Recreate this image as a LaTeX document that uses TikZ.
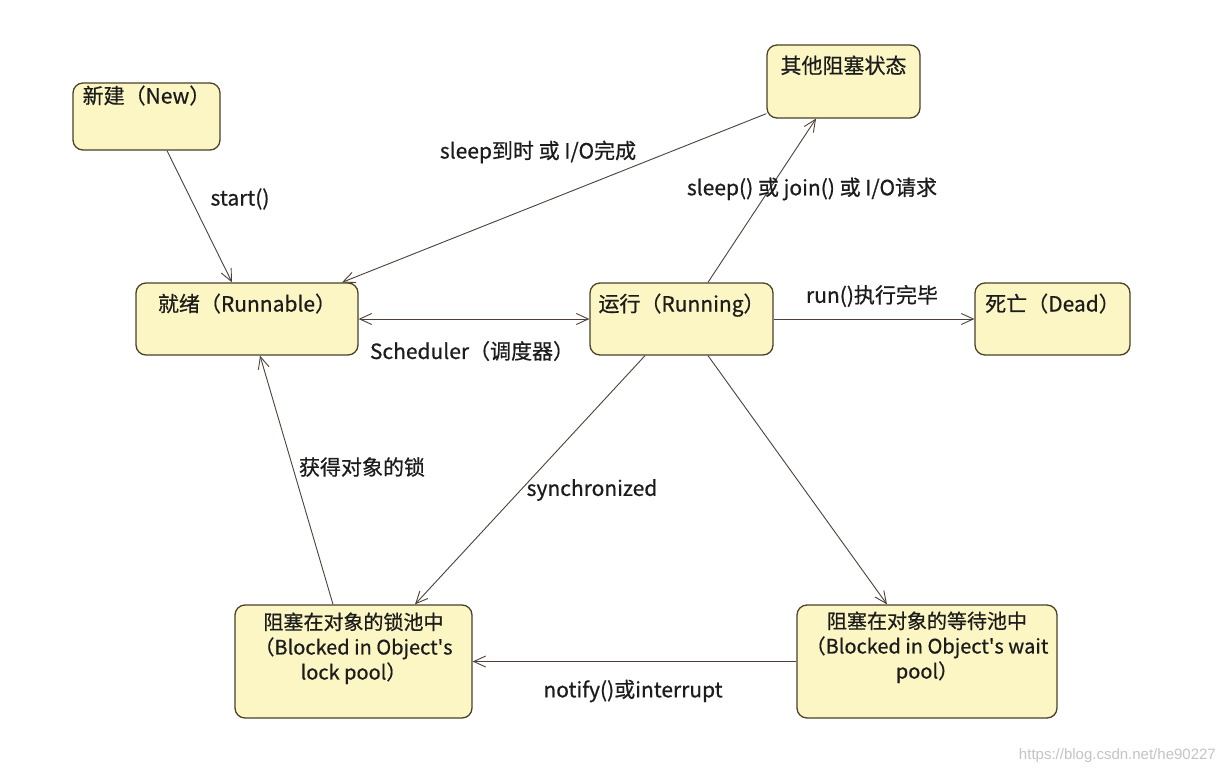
\documentclass[tikz,border=0pt]{standalone}
\usepackage{fontspec}
\setmainfont{Noto Sans CJK SC}[FakeBold=0.6]
\newfontfamily\apostFont{Noto Sans CJK SC}[FakeBold=0.6]
\newfontfamily\marcaFont{Liberation Sans}
\newcommand{\apost}{{\apostFont '}}
\usetikzlibrary{arrows.meta}
\definecolor{estadoFondo}{HTML}{FBF6C4}
\definecolor{estadoBorde}{HTML}{4A4228}
\definecolor{flecha}{HTML}{4E4038}
\definecolor{texto}{HTML}{1C1C1C}
\definecolor{marca}{HTML}{C4C4C4}

\begin{document}
\begin{tikzpicture}[x=1pt, y=-1pt,
  >={Straight Barb[length=12pt,width=11pt]},
  estado/.style={draw=estadoBorde, fill=estadoFondo, line width=1.3pt, rounded corners=10pt, inner sep=0pt},
  titulo/.style={anchor=north, font=\fontsize{21}{25}\selectfont, text=texto, align=center, inner sep=0pt},
  etiq/.style={font=\fontsize{21}{25}\selectfont, text=texto, inner sep=0pt},
  trans/.style={draw=flecha, line width=0.9pt},
]
  % Fondo
  \useasboundingbox (0,0) rectangle (1226,776);
  \fill[white] (0,0) rectangle (1226,776);

  % Estados
  \node[estado, minimum width=147pt, minimum height=67pt] (nuevo) at (146.5,116.5) {};
  \node[estado, minimum width=153pt, minimum height=73pt] (otros) at (843.5,81.5) {};
  \node[estado, minimum width=222pt, minimum height=72pt] (listo) at (247,319) {};
  \node[estado, minimum width=183pt, minimum height=72pt] (corriendo) at (681.5,319) {};
  \node[estado, minimum width=155pt, minimum height=72pt] (muerto) at (1052.5,319) {};
  \node[estado, minimum width=237pt, minimum height=113pt] (bloqLock) at (353.5,661.5) {};
  \node[estado, minimum width=260pt, minimum height=113pt] (bloqWait) at (927,661.5) {};

  % Textos de los estados
  \node[titulo] (nuevoT) at ([yshift=-3pt]nuevo.north) {新建（New）};
  \node[titulo] (otrosT) at ([yshift=-11pt]otros.north) {其他阻塞状态};
  \node[titulo] (listoT) at ([yshift=-11pt]listo.north) {就绪（Runnable）};
  \node[titulo] (corriendoT) at ([yshift=-11pt]corriendo.north) {运行（Running）};
  \node[titulo] (muertoT) at ([yshift=-11pt]muerto.north) {死亡（Dead）};
  \node[titulo, font=\fontsize{20}{25}\selectfont] (bloqLockT) at ([yshift=-8pt]bloqLock.north) {阻塞在对象的锁池中\\（Blocked in Object\apost s\\lock pool）};
  \node[titulo, font=\fontsize{20}{25}\selectfont] (bloqWaitT) at ([yshift=-7pt]bloqWait.north) {阻塞在对象的等待池中\\（Blocked in Object\apost s wait\\pool）};

  % Transiciones
  \draw[trans, ->] ([xshift=20.5pt]nuevo.south) -- ([xshift=-15pt]listo.north);
  \draw[trans, ->] ([yshift=5pt]otros.south west) -- ([xshift=95pt]listo.north);
  \draw[trans, ->] ([xshift=26.5pt]corriendo.north) -- ([xshift=-27.5pt]otros.south);
  \draw[trans, <->] (listo.east) -- (corriendo.west);
  \draw[trans, ->] (corriendo.east) -- (muerto.west);
  \draw[trans, ->] ([xshift=-36.5pt]corriendo.south) -- ([xshift=61.5pt]bloqLock.north);
  \draw[trans, ->] ([xshift=26.5pt]corriendo.south) -- ([xshift=-40pt]bloqWait.north);
  \draw[trans, ->] ([xshift=-20.5pt]bloqLock.north) -- ([xshift=13pt]listo.south);
  \draw[trans, ->] (bloqWait.west) -- (bloqLock.east);

  % Etiquetas de las transiciones
  \node[etiq] (lStart) at (240,199) {start()};
  \node[etiq] (lSleepFin) at (538,152) {sleep到时 或 I/O完成};
  \node[etiq] (lSleep) at (812,189) {sleep() 或 join() 或 I/O请求};
  \node[etiq] (lSched) at (472,351) {Scheduler（调度器）};
  \node[etiq] (lRun) at (872,296) {run()执行完毕};
  \node[etiq] (lSync) at (592,490) {synchronized};
  \node[etiq] (lLock) at (362,467) {获得对象的锁};
  \node[etiq] (lNotify) at (633,691) {notify()或interrupt};

  % Marca de agua
  \node[font=\marcaFont\fontsize{15}{18}\selectfont, text=marca, inner sep=0pt, anchor=east] (marcaAgua) at (1216,756) {https://blog.csdn.net/he90227};
\end{tikzpicture}
\end{document}
